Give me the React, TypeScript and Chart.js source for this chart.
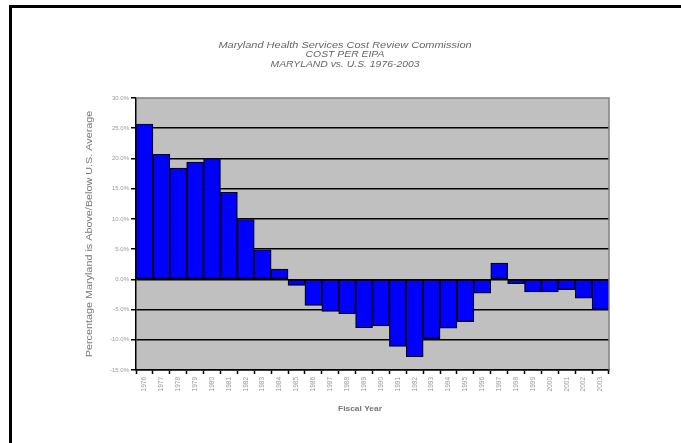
import React, { useEffect, useRef } from "react";
import { Chart, registerables } from "chart.js";

Chart.register(...registerables);

// Fiscal years on the category axis
const years = [
  "1976", "1977", "1978", "1979", "1980", "1981", "1982", "1983", "1984", "1985",
  "1986", "1987", "1988", "1989", "1990", "1991", "1992", "1993", "1994", "1995",
  "1996", "1997", "1998", "1999", "2000", "2001", "2002", "2003",
];

// Percent Maryland cost per EIPA is above (+) or below (-) the U.S. average
const pctAboveBelow = [
  25.7, 20.7, 18.4, 19.4, 20.0, 14.4, 9.9, 4.9, 1.7, -1.0,
  -4.3, -5.3, -5.7, -8.0, -7.7, -11.1, -12.8, -9.8, -8.1, -7.0,
  -2.3, 2.7, -0.7, -2.1, -2.1, -1.7, -3.1, -5.0,
];

const titleLines = [
  "Maryland Health Services Cost Review Commission",
  "COST PER EIPA",
  "MARYLAND vs. U.S. 1976-2003",
];
const yAxisTitle = "Percentage Maryland is Above/Below U.S. Average";
const xAxisTitle = "Fiscal Year";

const yMin = -15;
const yMax = 30;
const yStep = 5;

const FONT = "'Liberation Sans', Arial, sans-serif";

const plotDecor = {
  id: "plotDecor",
  beforeDraw(chart: any) {
    const { ctx, chartArea } = chart;
    ctx.save();
    ctx.fillStyle = "#C0C0C0";
    ctx.fillRect(chartArea.left, chartArea.top, chartArea.right - chartArea.left, chartArea.bottom - chartArea.top);
    ctx.restore();
  },
  afterDraw(chart: any) {
    const { ctx, chartArea } = chart;
    ctx.save();
    // light frame on the top and right of the plot
    ctx.strokeStyle = "#808080";
    ctx.lineWidth = 1.5;
    ctx.beginPath();
    ctx.moveTo(chartArea.left, chartArea.top);
    ctx.lineTo(chartArea.right, chartArea.top);
    ctx.lineTo(chartArea.right, chartArea.bottom);
    ctx.stroke();

    // chart title
    ctx.fillStyle = "#666666";
    ctx.textAlign = "center";
    ctx.textBaseline = "middle";
    const cx = 345;
    const ys = [45, 55, 64.5];
    const sizes = [9, 8.5, 8.5];
    titleLines.forEach((line, i) => {
      ctx.font = `italic ${sizes[i]}px ${FONT}`;
      ctx.save();
      ctx.translate(cx, ys[i]);
      ctx.scale(1.22, 1);
      ctx.fillText(line, 0, 0);
      ctx.restore();
    });

    // value axis title
    ctx.save();
    ctx.translate(90, (chartArea.top + chartArea.bottom) / 2);
    ctx.rotate(-Math.PI / 2);
    ctx.font = `9px ${FONT}`;
    ctx.fillStyle = "#777777";
    ctx.scale(1.2, 1);
    ctx.fillText(yAxisTitle, 0, 0);
    ctx.restore();

    // category axis title
    ctx.save();
    ctx.translate(360, 409);
    ctx.font = `bold 7px ${FONT}`;
    ctx.fillStyle = "#777777";
    ctx.scale(1.2, 1);
    ctx.fillText(xAxisTitle, 0, 0);
    ctx.restore();

    ctx.restore();
  },
};

export default function App() {
  const canvasRef = useRef<HTMLCanvasElement | null>(null);

  useEffect(() => {
    if (!canvasRef.current) return;
    const chart = new Chart(canvasRef.current, {
      type: "bar",
      data: {
        labels: years,
        datasets: [
          {
            data: pctAboveBelow,
            backgroundColor: "#0000FF",
            borderColor: "#000000",
            borderWidth: 1.2,
            borderSkipped: false,
            barPercentage: 1,
            categoryPercentage: 1,
          },
        ],
      },
      options: {
        responsive: false,
        animation: false,
        events: [],
        layout: { padding: { top: 98, right: 72, left: 0, bottom: 0 } },
        plugins: {
          legend: { display: false },
          tooltip: { enabled: false },
          title: { display: false },
        },
        scales: {
          x: {
            offset: true,
            afterFit: (s: any) => {
              s.height = 73;
            },
            grid: {
              display: true,
              offset: true,
              drawOnChartArea: false,
              drawTicks: true,
              tickLength: 4,
              tickColor: "#000000",
              tickWidth: 1.5,
            },
            border: { display: true, color: "#000000", width: 1.5 },
            ticks: {
              autoSkip: false,
              minRotation: 90,
              maxRotation: 90,
              padding: 3,
              color: "#999999",
              font: { family: FONT, size: 6.5 },
            },
          },
          y: {
            min: yMin,
            max: yMax,
            afterFit: (s: any) => {
              s.width = 136;
            },
            grid: {
              color: (c: any) => (c.tick && c.tick.value === yMax ? "rgba(0,0,0,0)" : "#000000"),
              lineWidth: 1.5,
              drawTicks: true,
              tickLength: 5,
              tickColor: "#000000",
              tickWidth: 1.5,
            },
            border: { display: true, color: "#000000", width: 1.5 },
            ticks: {
              stepSize: yStep,
              padding: 2,
              color: "#999999",
              font: { family: FONT, size: 6 },
              callback: (v: any) => `${Number(v).toFixed(1)}%`,
            },
          },
        },
      },
      plugins: [plotDecor],
    });
    return () => chart.destroy();
  }, []);

  return (
    <div
      style={{
        position: "fixed",
        left: 0,
        top: 0,
        width: 681,
        height: 443,
        background: "#ffffff",
        overflow: "hidden",
      }}
    >
      <canvas
        ref={canvasRef}
        width={681}
        height={443}
        style={{ position: "absolute", left: 0, top: 0, width: 681, height: 443 }}
      />
      <div style={{ position: "absolute", left: 9, top: 5, width: 672, height: 3, background: "#000" }} />
      <div style={{ position: "absolute", left: 9, top: 5, width: 3, height: 438, background: "#000" }} />
    </div>
  );
}
